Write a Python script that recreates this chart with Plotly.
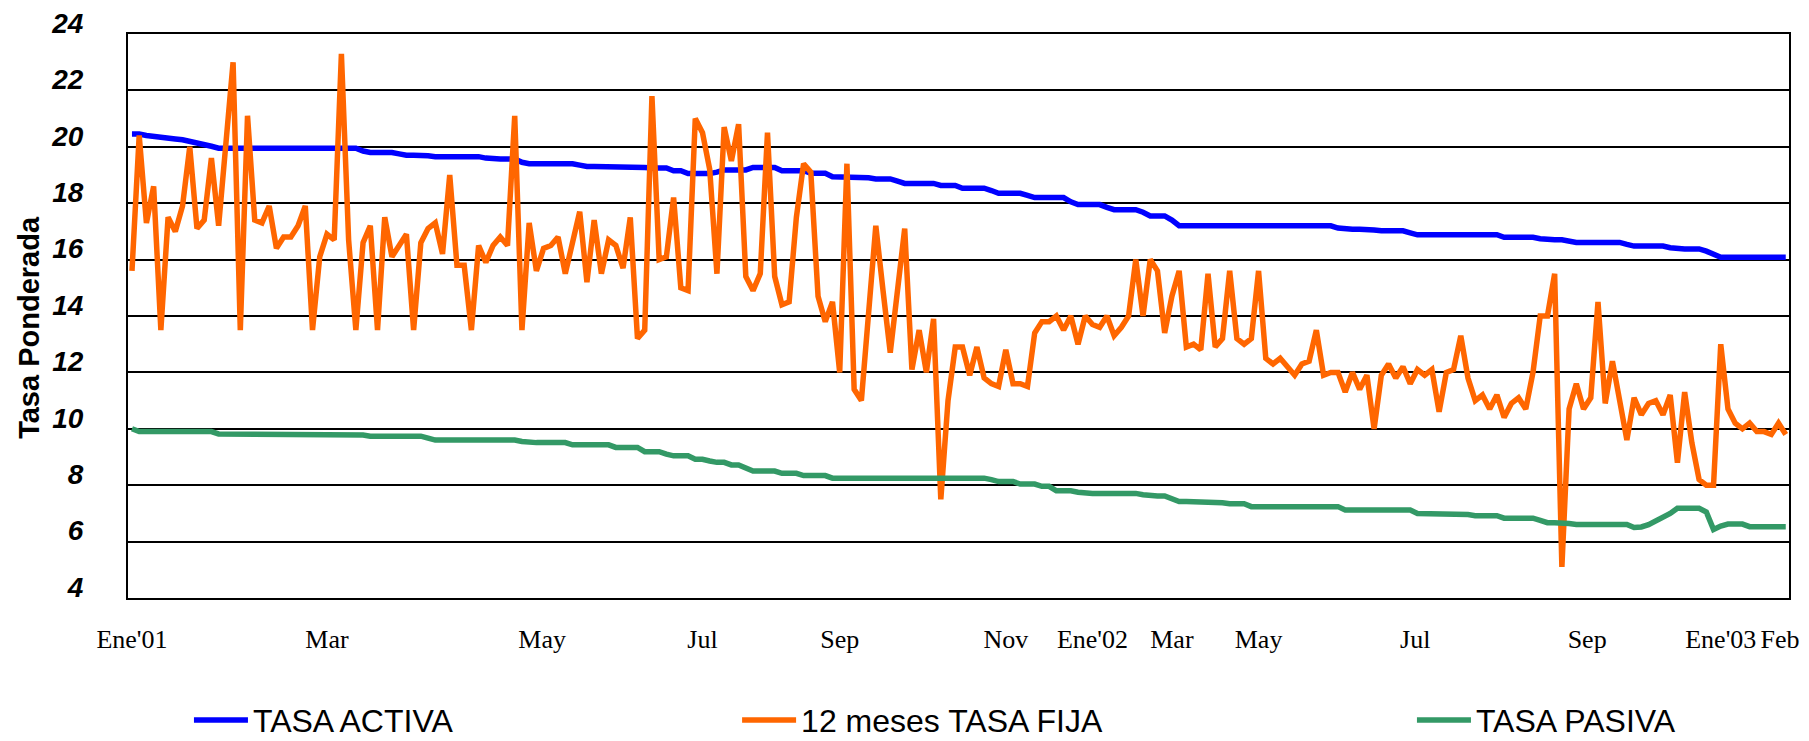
import plotly.graph_objects as go

# ---- data ----
tasa_fija = [
    15.6, 20.4, 17.3, 18.6, 13.5, 17.5, 17.0, 17.9, 20.0, 17.1,
    17.4, 19.6, 17.2, 20.1, 23.0, 13.5, 21.1, 17.4, 17.3, 17.9,
    16.4, 16.8, 16.8, 17.2, 17.9, 13.5, 16.1, 16.9, 16.7, 23.3,
    16.7, 13.5, 16.6, 17.2, 13.5, 17.5, 16.1, 16.5, 16.9, 13.5,
    16.6, 17.1, 17.3, 16.2, 19.0, 15.8, 15.8, 13.5, 16.5, 15.9,
    16.5, 16.8, 16.5, 21.1, 13.5, 17.3, 15.6, 16.4, 16.5, 16.8,
    15.5, 16.6, 17.7, 15.2, 17.4, 15.5, 16.7, 16.5, 15.7, 17.5,
    13.2, 13.5, 21.8, 16.0, 16.1, 18.2, 15.0, 14.9, 21.0, 20.5,
    19.2, 15.5, 20.7, 19.5, 20.8, 15.4, 14.9, 15.5, 20.5, 15.4,
    14.4, 14.5, 17.5, 19.4, 19.1, 14.7, 13.8, 14.5, 12.0, 19.4,
    11.4, 11.0, 14.1, 17.2, 14.9, 12.7, 14.9, 17.1, 12.1, 13.5,
    12.0, 13.9, 7.5, 11.0, 12.9, 12.9, 11.9, 12.9, 11.8, 11.6,
    11.5, 12.8, 11.6, 11.6, 11.5, 13.4, 13.8, 13.8, 14.0, 13.5,
    14.0, 13.0, 14.0, 13.7, 13.6, 14.0, 13.3, 13.6, 14.0, 16.0,
    14.0, 16.0, 15.6, 13.4, 14.7, 15.6, 12.9, 13.0, 12.8, 15.5,
    12.9, 13.2, 15.6, 13.2, 13.0, 13.2, 15.6, 12.5, 12.3, 12.5,
    12.2, 11.9, 12.3, 12.4, 13.5, 11.9, 12.0, 12.0, 11.3, 12.0,
    11.4, 11.9, 10.0, 11.9, 12.3, 11.8, 12.2, 11.6, 12.1, 11.9,
    12.1, 10.6, 12.0, 12.1, 13.3, 11.8, 11.0, 11.2, 10.7, 11.2,
    10.4, 10.9, 11.1, 10.7, 12.0, 14.0, 14.0, 15.5, 5.1, 10.7,
    11.6, 10.7, 11.1, 14.5, 10.9, 12.4, 11.0, 9.6, 11.1, 10.5,
    10.9, 11.0, 10.5, 11.2, 8.8, 11.3, 9.5, 8.2, 8.0, 8.0,
    13.0, 10.7, 10.2, 10.0, 10.2, 9.9, 9.9, 9.8, 10.2, 9.8,
]

tasa_activa = [
    20.45, 20.45, 20.4, 20.38, 20.35, 20.3, 20.28, 20.25, 20.2, 20.12,
    20.08, 20.02, 19.95, 19.95, 19.95, 19.95, 19.95, 19.95, 19.95, 19.95,
    19.95, 19.95, 19.95, 19.95, 19.95, 19.95, 19.95, 19.95, 19.95, 19.95,
    19.95, 19.95, 19.85, 19.8, 19.8, 19.8, 19.8, 19.75, 19.7, 19.7,
    19.7, 19.68, 19.65, 19.65, 19.65, 19.65, 19.65, 19.65, 19.65, 19.6,
    19.57, 19.57, 19.57, 19.57, 19.45, 19.4, 19.4, 19.4, 19.4, 19.4,
    19.4, 19.4, 19.35, 19.3, 19.3, 19.3, 19.3, 19.3, 19.3, 19.3,
    19.3, 19.27, 19.25, 19.25, 19.25, 19.15, 19.15, 19.05, 19.05, 19.05,
    19.05, 19.1, 19.18, 19.18, 19.18, 19.18, 19.27, 19.27, 19.27, 19.27,
    19.15, 19.15, 19.15, 19.15, 19.06, 19.06, 19.06, 18.94, 18.94, 18.94,
    18.94, 18.94, 18.9, 18.86, 18.86, 18.86, 18.78, 18.7, 18.7, 18.7,
    18.7, 18.7, 18.63, 18.63, 18.63, 18.53, 18.53, 18.53, 18.53, 18.45,
    18.35, 18.35, 18.35, 18.35, 18.28, 18.2, 18.2, 18.2, 18.2, 18.2,
    18.05, 17.95, 17.95, 17.95, 17.95, 17.85, 17.77, 17.77, 17.77, 17.77,
    17.68, 17.55, 17.55, 17.55, 17.4, 17.2, 17.2, 17.2, 17.2, 17.2,
    17.2, 17.2, 17.2, 17.2, 17.2, 17.2, 17.2, 17.2, 17.2, 17.2,
    17.2, 17.2, 17.2, 17.2, 17.2, 17.2, 17.2, 17.12, 17.08, 17.08,
    17.08, 17.08, 17.05, 17.02, 17.02, 17.02, 17.02, 16.95, 16.88, 16.88,
    16.88, 16.88, 16.88, 16.88, 16.88, 16.88, 16.88, 16.88, 16.88, 16.88,
    16.79, 16.79, 16.79, 16.79, 16.79, 16.74, 16.7, 16.7, 16.7, 16.65,
    16.61, 16.61, 16.61, 16.61, 16.61, 16.61, 16.61, 16.54, 16.48, 16.48,
    16.48, 16.48, 16.48, 16.42, 16.38, 16.38, 16.38, 16.38, 16.3, 16.2,
    16.08, 16.08, 16.08, 16.08, 16.08, 16.08, 16.08, 16.08, 16.08, 16.08,
]

tasa_pasiva = [
    10.0, 9.9, 9.9, 9.9, 9.9, 9.9, 9.9, 9.9, 9.9, 9.9,
    9.9, 9.9, 9.82, 9.82, 9.82, 9.82, 9.82, 9.82, 9.82, 9.82,
    9.82, 9.82, 9.82, 9.82, 9.82, 9.82, 9.82, 9.82, 9.82, 9.82,
    9.82, 9.82, 9.78, 9.74, 9.74, 9.74, 9.74, 9.74, 9.74, 9.74,
    9.74, 9.67, 9.6, 9.6, 9.6, 9.6, 9.6, 9.6, 9.6, 9.6,
    9.6, 9.6, 9.6, 9.6, 9.55, 9.51, 9.51, 9.51, 9.51, 9.51,
    9.51, 9.43, 9.43, 9.43, 9.43, 9.43, 9.43, 9.34, 9.34, 9.34,
    9.34, 9.19, 9.19, 9.19, 9.1, 9.04, 9.04, 9.04, 8.92, 8.92,
    8.86, 8.81, 8.81, 8.72, 8.72, 8.6, 8.5, 8.5, 8.5, 8.5,
    8.42, 8.42, 8.42, 8.34, 8.34, 8.34, 8.34, 8.25, 8.25, 8.25,
    8.25, 8.25, 8.25, 8.25, 8.25, 8.25, 8.25, 8.25, 8.25, 8.25,
    8.25, 8.25, 8.25, 8.25, 8.25, 8.25, 8.25, 8.25, 8.25, 8.2,
    8.13, 8.13, 8.13, 8.04, 8.04, 8.04, 7.96, 7.96, 7.8, 7.8,
    7.8, 7.75, 7.71, 7.71, 7.71, 7.71, 7.71, 7.71, 7.71, 7.71,
    7.66, 7.62, 7.62, 7.62, 7.5, 7.42, 7.42, 7.42, 7.42, 7.42,
    7.42, 7.38, 7.34, 7.34, 7.34, 7.24, 7.24, 7.24, 7.24, 7.24,
    7.24, 7.24, 7.24, 7.24, 7.24, 7.24, 7.24, 7.24, 7.12, 7.12,
    7.12, 7.12, 7.12, 7.12, 7.12, 7.12, 7.12, 7.12, 7.0, 7.0,
    7.0, 7.0, 7.0, 7.0, 7.0, 6.96, 6.92, 6.92, 6.92, 6.92,
    6.83, 6.83, 6.83, 6.83, 6.83, 6.75, 6.67, 6.67, 6.67, 6.64,
    6.61, 6.61, 6.61, 6.61, 6.61, 6.61, 6.61, 6.61, 6.5, 6.52,
    6.6, 6.72, 6.88, 7.0, 7.18, 7.18, 7.18, 7.18, 7.05, 6.43,
    6.55, 6.62, 6.62, 6.62, 6.53, 6.53, 6.53, 6.53, 6.53, 6.53,
]

# month labels and the observation index where each one sits
month_labels = ["Ene'01", "Mar", "May", "Jul", "Sep", "Nov", "Ene'02",
                "Mar", "May", "Jul", "Sep", "Ene'03", "Feb"]
month_pos = [0, 27, 56.8, 79, 98, 121, 133, 144, 156, 177.7, 201.5, 220, 228.2]

y_ticks = [4, 6, 8, 10, 12, 14, 16, 18, 20, 22, 24]

obs = list(range(len(tasa_fija)))

fig = go.Figure()
fig.add_trace(go.Scatter(x=obs, y=tasa_activa, mode="lines", name="TASA ACTIVA",
                         line=dict(color="#0000FF", width=5.5), legend="legend"))
fig.add_trace(go.Scatter(x=obs, y=tasa_fija, mode="lines", name="12 meses TASA FIJA",
                         line=dict(color="#FF6600", width=5.5), legend="legend2"))
fig.add_trace(go.Scatter(x=obs, y=tasa_pasiva, mode="lines", name="TASA PASIVA",
                         line=dict(color="#339966", width=5.5), legend="legend3"))

legend_font = dict(family="Liberation Sans, Arial", size=32, color="black")
leg_common = dict(orientation="h", yanchor="middle", y=-0.2165, xanchor="left",
                  bgcolor="rgba(0,0,0,0)", font=legend_font, itemwidth=54,
                  borderwidth=0)

fig.update_layout(
    width=1809, height=741, autosize=False, showlegend=True,
    margin=dict(l=128, r=20, t=34, b=143, autoexpand=False),
    paper_bgcolor="white", plot_bgcolor="white",
    legend=dict(x=0.0367, **leg_common),
    legend2=dict(x=0.3667, **leg_common),
    legend3=dict(x=0.773, **leg_common),
    xaxis=dict(range=[-0.55, 229.45], tickmode="array", tickvals=month_pos,
               ticktext=month_labels, showgrid=False, zeroline=False,
               showline=True, linecolor="black", linewidth=2, mirror=True,
               ticks="", ticklabelstandoff=17,
               tickfont=dict(family="Liberation Serif, Times New Roman, serif",
                             size=26, color="black")),
    yaxis=dict(range=[4, 24], tickmode="array", tickvals=y_ticks,
               ticktext=[str(v) for v in y_ticks],
               showgrid=True, gridcolor="black", gridwidth=2, zeroline=False,
               showline=True, linecolor="black", linewidth=2, mirror=True,
               ticks="", ticklabelstandoff=37, ticklabelshift=-11,
               tickfont=dict(family="Liberation Sans, Arial", size=28,
                             color="black", weight="bold", style="italic")),
    annotations=[dict(text="Tasa Ponderada", textangle=-90, showarrow=False,
                      xref="paper", yref="paper", x=-0.0596, y=0.479,
                      xanchor="center", yanchor="middle",
                      font=dict(family="Liberation Sans, Arial", size=29,
                                color="black", weight="bold"))],
)

fig.write_html("out.html", config={"displayModeBar": False},
               post_script="document.body.style.margin='0';document.body.style.overflow='hidden';")
